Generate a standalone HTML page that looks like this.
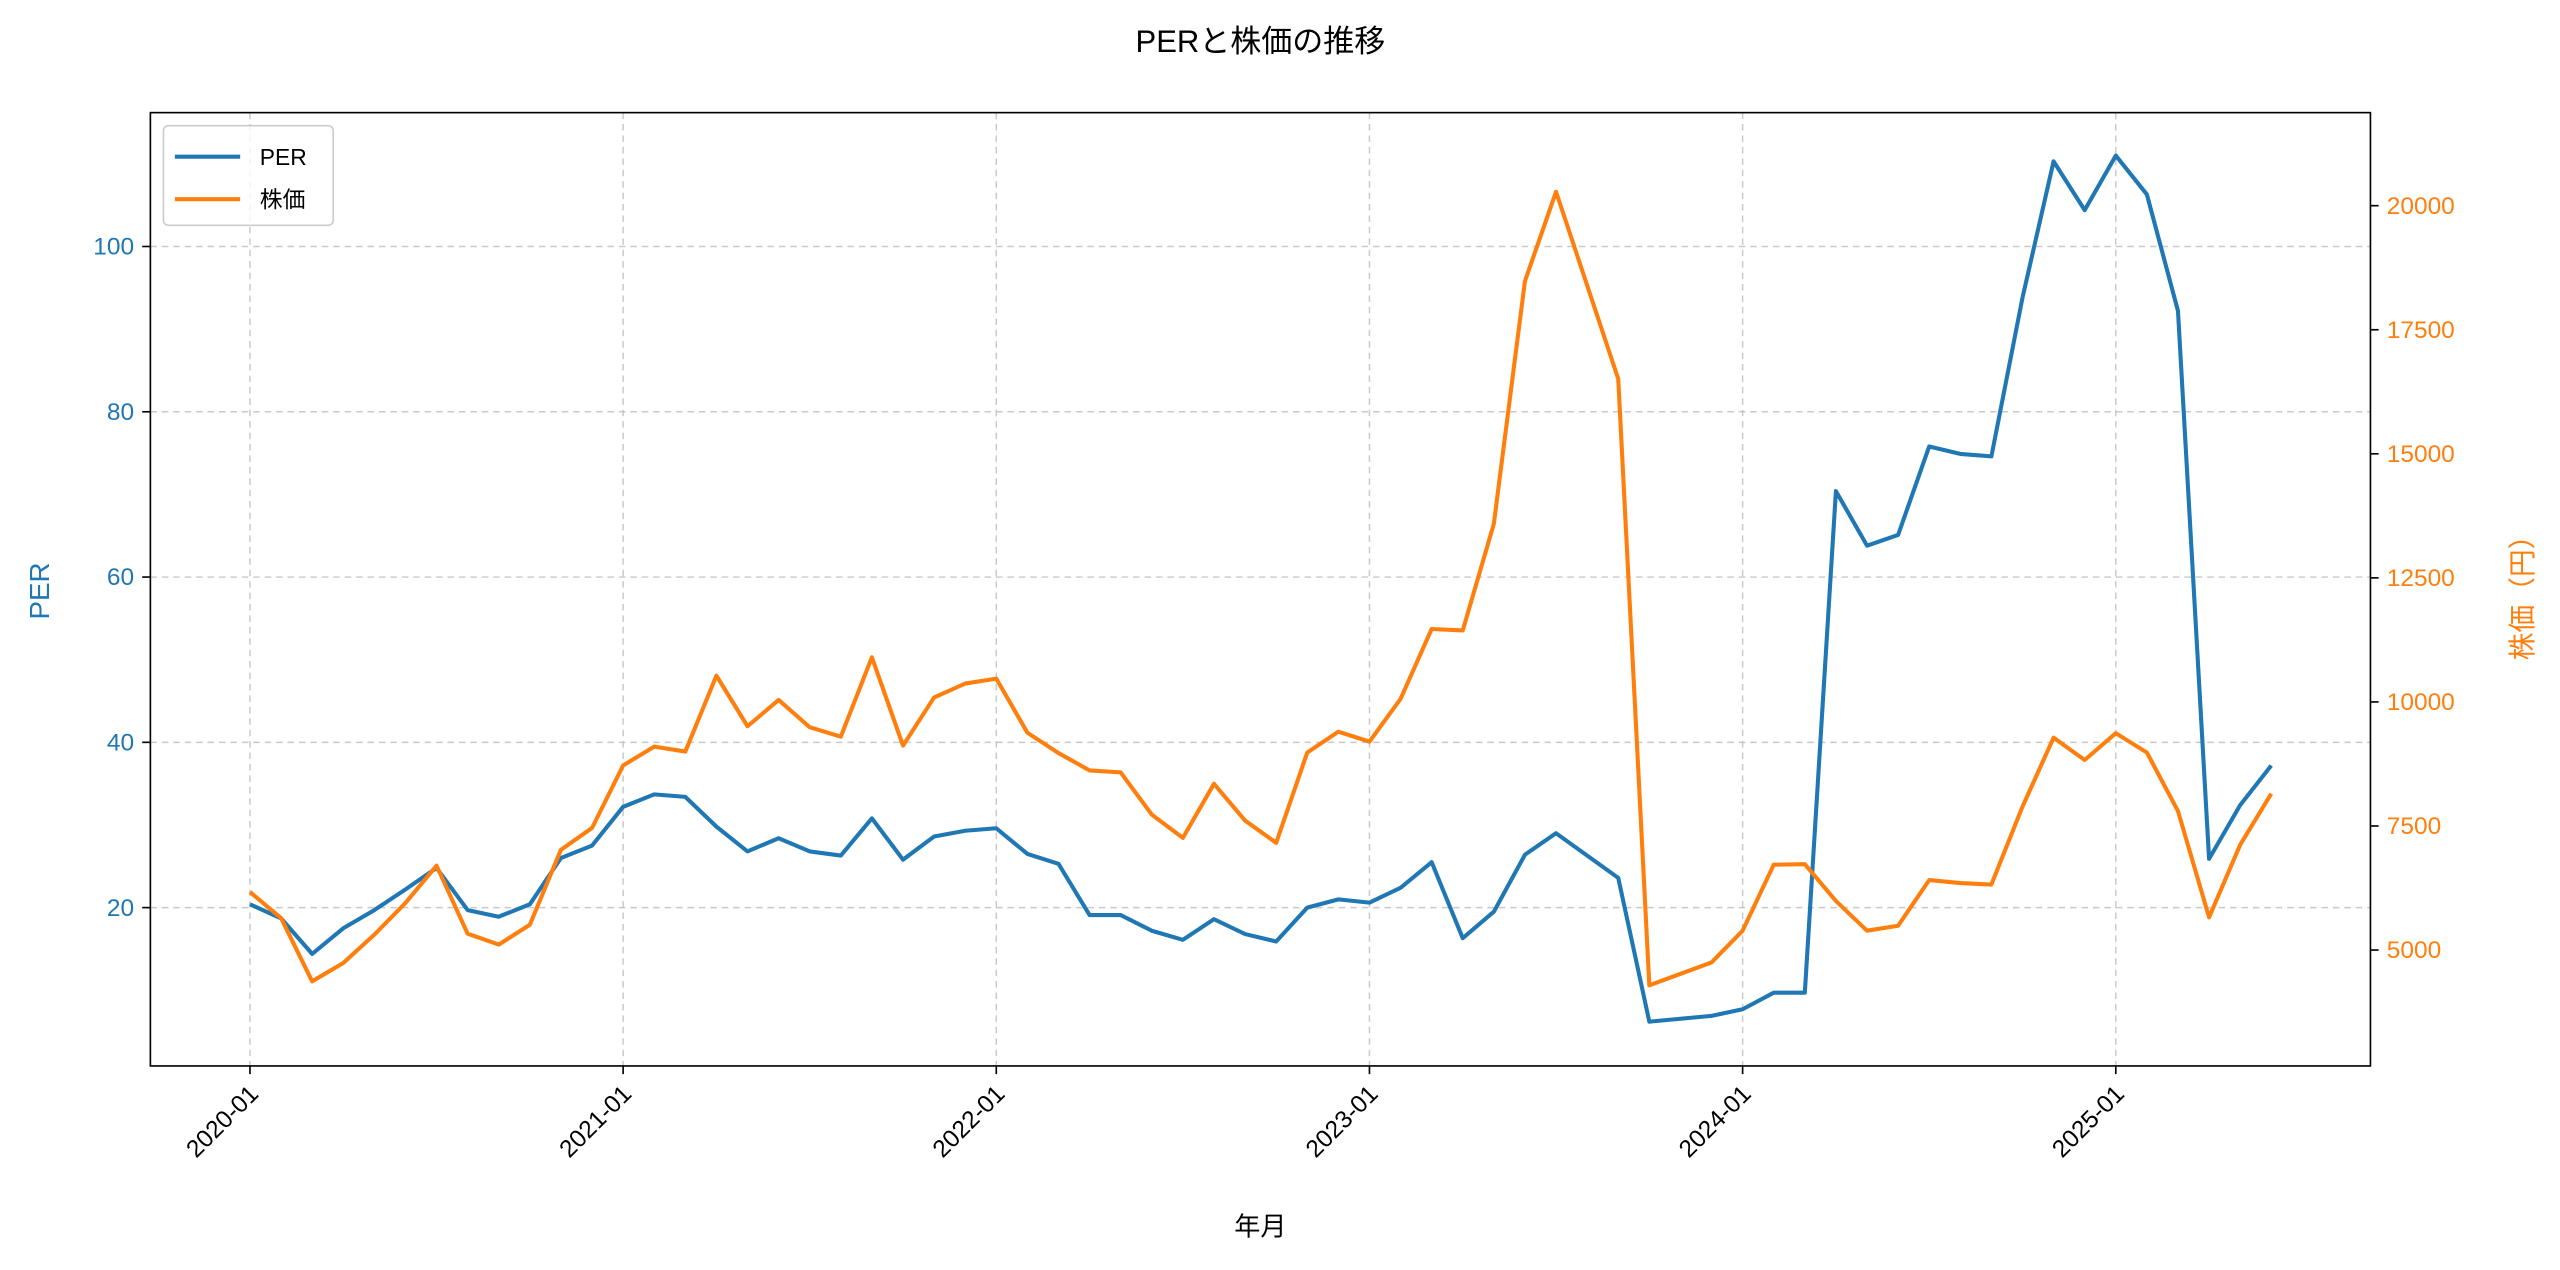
<!DOCTYPE html>
<html>
<head>
<meta charset="utf-8">
<style>
html,body{margin:0;padding:0;background:#fff;}
svg{display:block;}
text{font-family:"Liberation Sans","Noto Sans CJK JP",sans-serif;}
</style>
</head>
<body>
<svg id="chart" width="2560" height="1270" viewBox="0 0 1568 778" xmlns="http://www.w3.org/2000/svg">
  <rect x="0" y="0" width="1568" height="778" fill="#ffffff"/>
  <text x="772" y="32" font-size="19" text-anchor="middle" fill="#000">PERと株価の推移</text>
  <g id="grid"></g>
  <g id="series"></g>
  <rect x="92" y="69" width="1360" height="584" fill="none" stroke="#000" stroke-width="1"/>
  <g id="axes"></g>
  <text x="772" y="757" font-size="16" text-anchor="middle" fill="#000">年月</text>
  <text transform="translate(30,362) rotate(-90)" font-size="17" text-anchor="middle" fill="#1f77b4">PER</text>
  <text transform="translate(1551,362) rotate(-90)" font-size="17" text-anchor="middle" fill="#ff7f0e">株価（円）</text>
  <g>
    <rect x="100" y="77" width="104" height="61" rx="3" fill="#fff" fill-opacity="0.8" stroke="#ccc" stroke-width="1"/>
    <line x1="107" y1="96" x2="147" y2="96" stroke="#1f77b4" stroke-width="2.5"/>
    <text x="159" y="101" font-size="14" fill="#000">PER</text>
    <line x1="107" y1="122" x2="147" y2="122" stroke="#ff7f0e" stroke-width="2.5"/>
    <text x="159" y="127" font-size="14" fill="#000">株価</text>
  </g>
</svg>
<script>
const months = ["2020-01","2020-02","2020-03","2020-04","2020-05","2020-06","2020-07","2020-08","2020-09","2020-10","2020-11","2020-12",
"2021-01","2021-02","2021-03","2021-04","2021-05","2021-06","2021-07","2021-08","2021-09","2021-10","2021-11","2021-12",
"2022-01","2022-02","2022-03","2022-04","2022-05","2022-06","2022-07","2022-08","2022-09","2022-10","2022-11","2022-12",
"2023-01","2023-02","2023-03","2023-04","2023-05","2023-06","2023-07","2023-09","2023-10","2023-12",
"2024-01","2024-02","2024-03","2024-04","2024-05","2024-06","2024-07","2024-08","2024-09","2024-10","2024-11","2024-12",
"2025-01","2025-02","2025-03","2025-04","2025-05","2025-06"];
const perValues = [20.4,18.7,14.4,17.5,19.7,22.2,24.8,19.7,18.9,20.4,26.0,27.5,
32.2,33.7,33.4,29.8,26.8,28.4,26.8,26.3,30.8,25.8,28.6,29.3,
29.6,26.5,25.3,19.1,19.1,17.2,16.1,18.6,16.8,15.9,20.0,21.0,
20.6,22.4,25.5,16.3,19.5,26.4,29.0,23.6,6.2,6.9,
7.7,9.7,9.7,70.4,63.8,65.1,75.8,74.9,74.6,93.8,110.3,104.4,
111.0,106.3,92.2,25.9,32.4,37.2];
const priceValues = [6170,5645,4370,4740,5310,5950,6700,5330,5110,5510,7020,7460,
8720,9100,9000,10530,9510,10040,9490,9300,10900,9120,10090,10370,
10470,9380,8970,8620,8580,7730,7260,8350,7610,7160,8980,9400,
9200,10060,11470,11440,13590,18480,20280,16510,4290,4750,
5390,6720,6730,5990,5390,5490,6410,6350,6320,7890,9280,8830,
9370,8980,7800,5660,7120,8150];
const xTickLabels = ["2020-01","2021-01","2022-01","2023-01","2024-01","2025-01"];
const leftTicks = [20,40,60,80,100];
const rightTicks = [5000,7500,10000,12500,15000,17500,20000];

const NS = "http://www.w3.org/2000/svg";
function monthIndex(s){const p=s.split("-");return (+p[0]-2020)*12+(+p[1]-1);}
function xScale(s){return 153 + monthIndex(s)*(228.6/12);}
function yLeft(v){return 556 - (v-20)*5.0625;}
function yRight(v){return 582 - (v-5000)*76/2500;}
function mk(tag, attrs, parent){const e=document.createElementNS(NS,tag);for(const k in attrs)e.setAttribute(k,attrs[k]);parent.appendChild(e);return e;}

const grid=document.getElementById("grid"), axes=document.getElementById("axes"), series=document.getElementById("series");

xTickLabels.forEach(function(lbl){
  const x=xScale(lbl);
  const g=mk("line",{x1:x,y1:69,x2:x,y2:653,stroke:"#bbb","stroke-width":0.9,"stroke-dasharray":"4,3","stroke-opacity":0.8},grid);
  
  
  const t=mk("line",{x1:x,y1:653,x2:x,y2:658,stroke:"#000","stroke-width":1},axes);
  
  
  const tx=mk("text",{transform:"translate("+(x+6)+",671) rotate(-45)","font-size":15,"text-anchor":"end",fill:"#000"},axes);
  tx.textContent=lbl;
  
  
});
leftTicks.forEach(function(v){
  const y=yLeft(v);
  const g=mk("line",{x1:92,y1:y,x2:1452,y2:y,stroke:"#bbb","stroke-width":0.9,"stroke-dasharray":"4,3","stroke-opacity":0.8},grid);
  
  
  const t=mk("line",{x1:87,y1:y,x2:92,y2:y,stroke:"#000","stroke-width":1},axes);
  
  
  const tx=mk("text",{x:82,y:y+5,"font-size":15,"text-anchor":"end",fill:"#1f77b4"},axes);
  tx.textContent=v;
  
  
});
rightTicks.forEach(function(v){
  const y=yRight(v);
  const t=mk("line",{x1:1452,y1:y,x2:1457,y2:y,stroke:"#000","stroke-width":1},axes);
  
  
  const tx=mk("text",{x:1462,y:y+5,"font-size":15,"text-anchor":"start",fill:"#ff7f0e"},axes);
  tx.textContent=v;
  
  
});

const perPts=months.map(function(m,i){return xScale(m).toFixed(2)+","+yLeft(perValues[i]).toFixed(2);}).join(" ");
const pricePts=months.map(function(m,i){return xScale(m).toFixed(2)+","+yRight(priceValues[i]).toFixed(2);}).join(" ");
const l1=mk("polyline",{points:perPts,fill:"none",stroke:"#1f77b4","stroke-width":2.5,"stroke-linejoin":"round"},series);


const l2=mk("polyline",{points:pricePts,fill:"none",stroke:"#ff7f0e","stroke-width":2.5,"stroke-linejoin":"round"},series);


</script>
</body>
</html>
